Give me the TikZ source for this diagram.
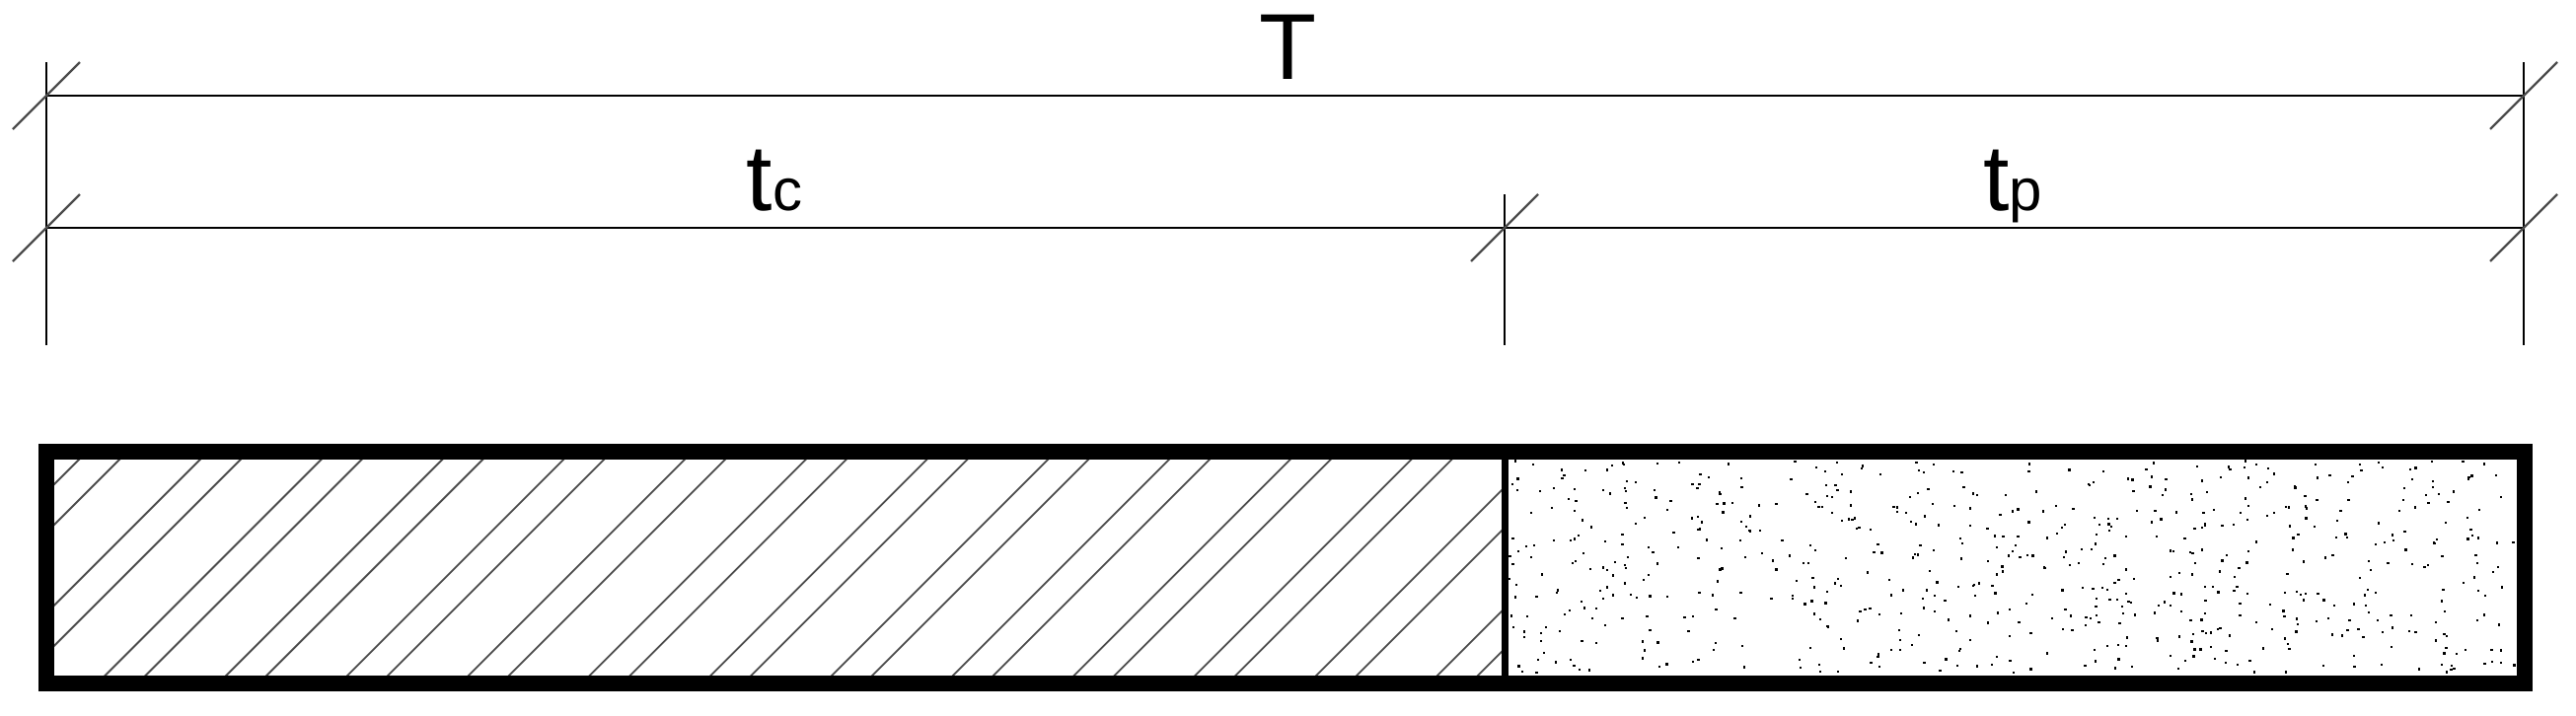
\documentclass[tikz,border=0pt]{standalone}
\usepackage{fontspec}
\setmainfont{Liberation Sans}
\usetikzlibrary{calc}
\begin{document}
\begin{tikzpicture}[x=0.5pt,y=-0.5pt,
  dimline/.style={line width=1.1pt,black},
  tickline/.style={line width=1.1pt,black!70},
  hatchline/.style={line width=0.9pt,black!70},
  border/.style={line width=8pt,black,line join=miter},
  divider/.style={line width=3.5pt,black},
  bigtxt/.style={inner sep=0pt,anchor=base,font=\fontsize{47.5}{50}\selectfont},
  dotmark/.style={fill=black}]
\useasboundingbox (0,0) rectangle (2611,725);
% dimension geometry
\coordinate (L1) at (47,97);
\coordinate (R1) at (2558,97);
\coordinate (L2) at (47,231);
\coordinate (M2) at (1525,231);
\coordinate (R2) at (2558,231);
\coordinate (Ltop) at (47,63);
\coordinate (Lbot) at (47,350);
\coordinate (Mtop) at (1525,197);
\coordinate (Mbot) at (1525,350);
\coordinate (Rtop) at (2558,63);
\coordinate (Rbot) at (2558,350);
% extension lines
\draw[dimline] (Ltop) -- (Lbot);
\draw[dimline] (Mtop) -- (Mbot);
\draw[dimline] (Rtop) -- (Rbot);
% dimension lines
\draw[dimline] (L1) -- (R1);
\draw[dimline] (L2) -- (M2) -- (R2);
% ticks
\foreach \p in {L1,R1,L2,M2,R2}{
  \draw[tickline] ($(\p)+(-34,34)$) -- ($(\p)+(34,-34)$);
}
% labels
\node[bigtxt] (T) at (1305,80) {T};
\node[bigtxt] (tc) at (785,213) {t{\fontsize{30}{30}\selectfont c}};
\node[bigtxt] (tp) at (2040,213) {t{\fontsize{30}{30}\selectfont p}};
% hatch in left part
\begin{scope}
  \clip (54,466) rectangle (1522,684);
  \foreach \k in {0,...,13}{
    \pgfmathsetmacro\ca{546+\k*122.75}
    \pgfmathsetmacro\cb{\ca+41}
    \draw[hatchline] (\ca-700,700) -- (\ca-450,450);
    \draw[hatchline] (\cb-700,700) -- (\cb-450,450);
  }
\end{scope}
% stipple in right part
\begin{scope}
  \clip (1529,466) rectangle (2551,684);
  \pgfmathsetseed{4321}
  \foreach \i in {1,...,700}{
    \pgfmathsetmacro\dx{1529+rnd*1020}
    \pgfmathsetmacro\dy{466+rnd*216}
    \fill[dotmark] (\dx,\dy) rectangle ++(2.3,2.3);
  }
\end{scope}
% border and divider
\coordinate (TL) at (47,458);
\coordinate (TR) at (2559,458);
\coordinate (Dtop) at (1525,458);
\coordinate (Dbot) at (1525,693);
\draw[border] (TL) rectangle (2559,693);
\draw[divider] (Dtop) -- (Dbot);
\end{tikzpicture}
\end{document}
